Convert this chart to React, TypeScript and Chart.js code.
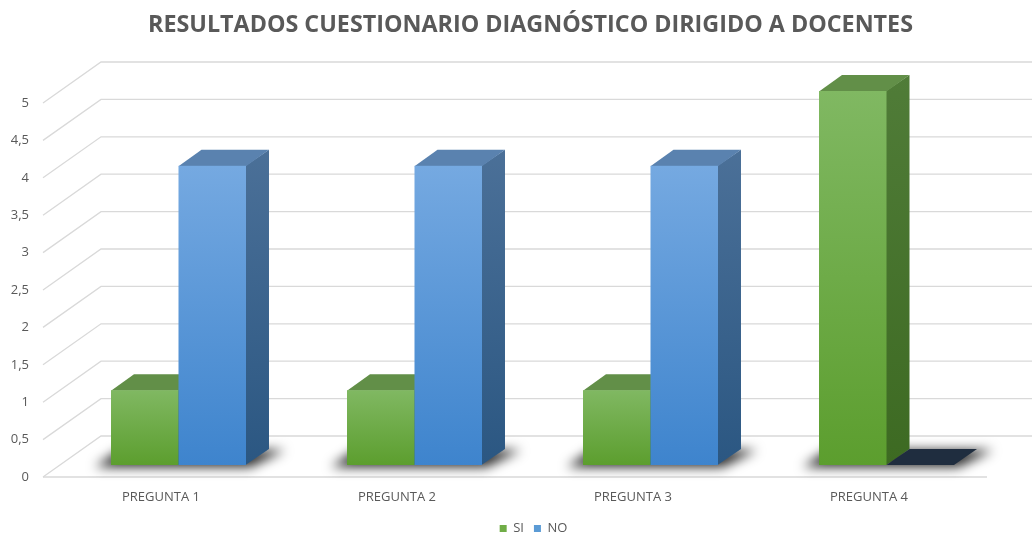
import React, { useEffect, useRef } from 'react';
import { Chart, registerables } from 'chart.js';

Chart.register(...registerables);

// ---------- data ----------
const TITLE = 'RESULTADOS CUESTIONARIO DIAGNÓSTICO DIRIGIDO A DOCENTES';
const CATEGORIES = ['PREGUNTA 1', 'PREGUNTA 2', 'PREGUNTA 3', 'PREGUNTA 4'];
const SERIES_NAMES = ['SI', 'NO'];
const SI_VALUES = [1, 1, 1, 5];
const NO_VALUES = [4, 4, 4, 0];
const Y_TICKS = [0, 0.5, 1, 1.5, 2, 2.5, 3, 3.5, 4, 4.5, 5];
const Y_TICK_LABELS = ['0', '0,5', '1', '1,5', '2', '2,5', '3', '3,5', '4', '4,5', '5'];

// ---------- style ----------
const FONT = '"Open Sans", "DejaVu Sans", sans-serif';
const TEXT = '#595959';
const GRID = '#d9d9d9';
const FLOOR = { dx: 58, dy: -41 };
const BAR_FRONT = { dx: 17.5, dy: -12 };
const BAR_DEPTH = { dx: 23, dy: -16 };
const TITLE_CENTER_X = 530.5;
const TITLE_BASELINE = 32;
const TITLE_WIDTH = 765;
const LEGEND_SHIFT = 40;
const PALETTE = [
  {
    legend: '#70ad47',
    frontTop: '#80b862',
    frontBottom: '#5c9e2e',
    sideTop: '#507c38',
    sideBottom: '#3d6a22',
    top: '#628f48',
    zeroTop: '#2a3d1e',
  },
  {
    legend: '#5b9bd5',
    frontTop: '#75a9e1',
    frontBottom: '#3e84cd',
    sideTop: '#4b7098',
    sideBottom: '#2b5782',
    top: '#5a82af',
    zeroTop: '#1f2d3f',
  },
];

function drawBar(ctx: CanvasRenderingContext2D, el: any, pal: any) {
  const p = el.getProps(['x', 'y', 'base', 'width'], true);
  const l = p.x - p.width / 2 + BAR_FRONT.dx;
  const r = p.x + p.width / 2 + BAR_FRONT.dx;
  const t = p.y + BAR_FRONT.dy;
  const b = p.base + BAR_FRONT.dy;
  const dx = BAR_DEPTH.dx;
  const dy = BAR_DEPTH.dy;

  if (b - t < 0.5) {
    ctx.fillStyle = pal.zeroTop;
    ctx.beginPath();
    ctx.moveTo(l, b);
    ctx.lineTo(r, b);
    ctx.lineTo(r + dx, b + dy);
    ctx.lineTo(l + dx, b + dy);
    ctx.closePath();
    ctx.fill();
    return;
  }

  // side face
  const gs = ctx.createLinearGradient(0, t + dy, 0, b);
  gs.addColorStop(0, pal.sideTop);
  gs.addColorStop(1, pal.sideBottom);
  ctx.fillStyle = gs;
  ctx.beginPath();
  ctx.moveTo(r - 0.5, t);
  ctx.lineTo(r + dx, t + dy);
  ctx.lineTo(r + dx, b + dy);
  ctx.lineTo(r - 0.5, b);
  ctx.closePath();
  ctx.fill();

  // top face
  ctx.fillStyle = pal.top;
  ctx.beginPath();
  ctx.moveTo(l, t + 0.5);
  ctx.lineTo(r, t + 0.5);
  ctx.lineTo(r + dx, t + dy);
  ctx.lineTo(l + dx, t + dy);
  ctx.closePath();
  ctx.fill();

  // front face
  const gf = ctx.createLinearGradient(0, t, 0, b);
  gf.addColorStop(0, pal.frontTop);
  gf.addColorStop(1, pal.frontBottom);
  ctx.fillStyle = gf;
  ctx.fillRect(l, t, r - l, b - t);
}

const threeDPlugin = {
  id: 'threeD',
  afterLayout(chart: any) {
    const lg = chart.legend;
    if (lg) {
      lg.left += LEGEND_SHIFT;
      lg.right += LEGEND_SHIFT;
    }
  },
  beforeDatasetsDraw(chart: any) {
    const ctx: CanvasRenderingContext2D = chart.ctx;
    const { left, right } = chart.chartArea;
    const yScale = chart.scales.y;

    // walls: side-wall diagonals + back-wall horizontals
    ctx.save();
    ctx.strokeStyle = GRID;
    ctx.lineWidth = 1.3;
    yScale.ticks.forEach((tk: any) => {
      const py = yScale.getPixelForValue(tk.value);
      ctx.beginPath();
      ctx.moveTo(left, py);
      ctx.lineTo(left + FLOOR.dx, py + FLOOR.dy);
      ctx.lineTo(chart.width, py + FLOOR.dy);
      ctx.stroke();
    });
    const p0 = yScale.getPixelForValue(0);
    ctx.beginPath();
    ctx.moveTo(left, p0);
    ctx.lineTo(right, p0);
    ctx.stroke();
    ctx.restore();

    const metas = chart.data.datasets.map((_: any, i: number) => chart.getDatasetMeta(i));

    // floor shadows
    for (let c = 0; c < CATEGORIES.length; c++) {
      let L = Infinity;
      let R = -Infinity;
      let B = 0;
      metas.forEach((m: any) => {
        const p = m.data[c].getProps(['x', 'base', 'width'], true);
        L = Math.min(L, p.x - p.width / 2);
        R = Math.max(R, p.x + p.width / 2);
        B = p.base;
      });
      L += BAR_FRONT.dx;
      R += BAR_FRONT.dx;
      B += BAR_FRONT.dy;
      ctx.save();
      ctx.filter = 'blur(6px)';
      ctx.fillStyle = 'rgba(0,0,0,0.85)';
      ctx.beginPath();
      ctx.moveTo(L - 16, B + 2);
      ctx.lineTo(R + 4, B + 2);
      ctx.lineTo(R + BAR_DEPTH.dx + 16, B + BAR_DEPTH.dy + 1);
      ctx.lineTo(L + BAR_DEPTH.dx - 14, B + BAR_DEPTH.dy + 1);
      ctx.closePath();
      ctx.fill();
      ctx.restore();
    }

    // bars
    ctx.save();
    for (let c = 0; c < CATEGORIES.length; c++) {
      metas.forEach((m: any, d: number) => drawBar(ctx, m.data[c], PALETTE[d]));
    }
    ctx.restore();
    return false;
  },
  afterDraw(chart: any) {
    const ctx: CanvasRenderingContext2D = chart.ctx;
    ctx.save();
    ctx.font = `bold 24px ${FONT}`;
    const w = ctx.measureText(TITLE).width;
    ctx.translate(TITLE_CENTER_X, TITLE_BASELINE);
    ctx.scale(TITLE_WIDTH / w, 1);
    ctx.textAlign = 'center';
    ctx.textBaseline = 'alphabetic';
    ctx.fillStyle = TEXT;
    ctx.fillText(TITLE, 0, 0);
    ctx.restore();
  },
};

export default function App() {
  const canvasRef = useRef<HTMLCanvasElement | null>(null);

  useEffect(() => {
    const canvas = canvasRef.current;
    if (!canvas) return;
    Chart.defaults.font.family = FONT;
    const chart = new Chart(canvas, {
      type: 'bar',
      data: {
        labels: CATEGORIES,
        datasets: [
          { label: SERIES_NAMES[0], data: SI_VALUES, backgroundColor: PALETTE[0].legend, borderWidth: 0 },
          { label: SERIES_NAMES[1], data: NO_VALUES, backgroundColor: PALETTE[1].legend, borderWidth: 0 },
        ],
      },
      options: {
        responsive: false,
        animation: false,
        devicePixelRatio: 1,
        layout: { padding: { left: 0, right: 45, top: 103, bottom: 0 } },
        datasets: { bar: { categoryPercentage: 0.572, barPercentage: 1 } },
        scales: {
          x: {
            type: 'category',
            offset: true,
            grid: { display: false, drawTicks: false },
            border: { display: false },
            ticks: { color: TEXT, font: { size: 13, family: FONT }, padding: 12, maxRotation: 0 },
            afterFit: (s: any) => { s.height = 35; },
          },
          y: {
            min: 0,
            max: 5,
            grid: { display: false, drawTicks: false },
            border: { display: false },
            afterBuildTicks: (s: any) => { s.ticks = Y_TICKS.map((v) => ({ value: v })); },
            ticks: {
              color: TEXT,
              font: { size: 13, family: FONT },
              padding: 14,
              callback: (_v: any, i: number) => Y_TICK_LABELS[i],
            },
            afterFit: (s: any) => { s.width = 43; },
          },
        },
        plugins: {
          title: { display: false },
          tooltip: { enabled: false },
          legend: {
            position: 'bottom',
            labels: { color: TEXT, font: { size: 13, family: FONT }, boxWidth: 7, boxHeight: 7, padding: 10 },
          },
        },
      } as any,
      plugins: [threeDPlugin],
    });
    return () => chart.destroy();
  }, []);

  return (
    <div style={{ position: 'fixed', left: 0, top: 0, width: 1032, height: 536, overflow: 'hidden', background: '#ffffff' }}>
      <canvas ref={canvasRef} width={1032} height={545} style={{ display: 'block' }} />
    </div>
  );
}
